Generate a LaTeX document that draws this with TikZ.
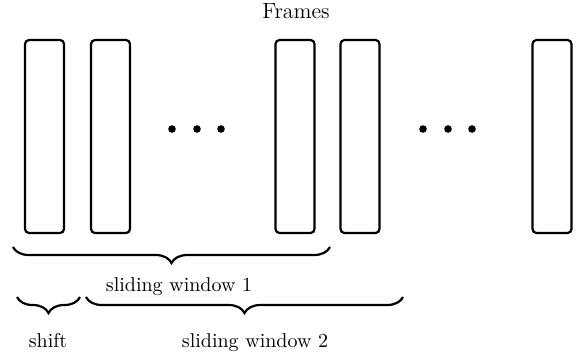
\documentclass[tikz,border=0pt]{standalone}
\usetikzlibrary{decorations.pathreplacing}
\begin{document}
\begin{tikzpicture}[x=0.5pt,y=-0.5pt,
  frame/.style={draw,line width=1.1pt,rounded corners=2pt,minimum width=19.5pt,minimum height=96.5pt,inner sep=0pt},
  bracestyle/.style={draw,line width=1.1pt,decorate,decoration={brace,mirror,amplitude=8pt}},
  lbl/.style={inner sep=0pt,font=\normalsize},
  dot/.style={circle,fill,inner sep=0pt,minimum size=3.8pt}]
\useasboundingbox (0,0) rectangle (582,361);
\node[lbl,anchor=base,font=\fontsize{11}{13}\selectfont] (title) at (296,18) {Frames};
\node[frame] (f1) at (44.5,136.5) {};
\node[frame] (f2) at (110.5,136.5) {};
\node[frame] (f3) at (295,136.5) {};
\node[frame] (f4) at (360,136.5) {};
\node[frame] (f5) at (552,136.5) {};
\node[dot] (d1) at (172,129) {};
\node[dot] (d2) at (197,129) {};
\node[dot] (d3) at (221,129) {};
\node[dot] (d4) at (423,129) {};
\node[dot] (d5) at (448,129) {};
\node[dot] (d6) at (472,129) {};
\coordinate (b1s) at (13,247);
\coordinate (b1e) at (330,247);
\coordinate (b2s) at (17,297);
\coordinate (b2e) at (80,297);
\coordinate (b3s) at (86,297);
\coordinate (b3e) at (403,297);
\draw[bracestyle] (b1s) -- (b1e);
\draw[bracestyle] (b2s) -- (b2e);
\draw[bracestyle] (b3s) -- (b3e);
\node[lbl,anchor=base] (sw1) at (179,291) {sliding window 1};
\node[lbl,anchor=base] (sh) at (48,347) {shift};
\node[lbl,anchor=base] (sw2) at (255,347) {sliding window 2};
\end{tikzpicture}
\end{document}
